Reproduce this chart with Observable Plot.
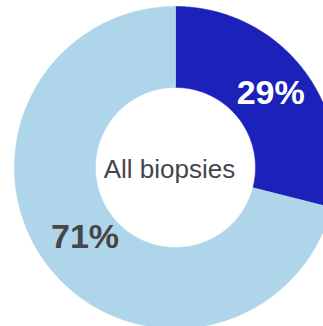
<!DOCTYPE html>
<html>
<head>
<meta charset="utf-8">
<script src="https://cdn.jsdelivr.net/npm/d3@7"></script>
<script src="https://cdn.jsdelivr.net/npm/@observablehq/plot@0.6"></script>
<style>
  html, body { margin: 0; padding: 0; background: #fff; overflow: hidden; }
  #chart svg { display: block; overflow: hidden; }
</style>
</head>
<body>
<div id="chart"></div>
<script>
// Share of biopsies per outcome (percent), drawn clockwise from 12 o'clock
const outcomes = ["Positive", "Negative"];
const shares = [29, 71];
const sliceColors = ["#1c22b9", "#afd5eb"];
const labelColors = ["#ffffff", "#45454a"];
const centerLabel = "All biopsies";

// Layout
const W = 323, H = 326;
const cx = 175, cy = 167;      // ring centre in pixels
const R = 161;                 // outer radius in pixels (= 1 unit)
const inner = 0.497;           // inner radius, in units of the outer radius

const pie = d3.pie().sort(null).value(d => d.share);
const arcs = pie(outcomes.map((o, i) => ({outcome: o, share: shares[i], color: sliceColors[i], label: labelColors[i]})));

// Outline of each ring segment: outer arc forward, inner arc back
const outline = [];
for (const a of arcs) {
  const n = Math.max(2, Math.ceil((a.endAngle - a.startAngle) / (Math.PI / 360)));
  for (let k = 0; k <= n; k++) {
    const t = a.startAngle + (a.endAngle - a.startAngle) * k / n;
    outline.push({outcome: a.data.outcome, color: a.data.color, x: Math.sin(t), y: Math.cos(t)});
  }
  for (let k = n; k >= 0; k--) {
    const t = a.startAngle + (a.endAngle - a.startAngle) * k / n;
    outline.push({outcome: a.data.outcome, color: a.data.color, x: inner * Math.sin(t), y: inner * Math.cos(t)});
  }
}

// Percentage labels near each segment's centroid
const rMid = (1 + inner) / 2;
const labels = arcs.map(a => {
  const t = (a.startAngle + a.endAngle) / 2;
  const r = a.index === 0 ? rMid : rMid * 0.95;
  return {text: `${a.data.share}%`, color: a.data.label, x: r * Math.sin(t), y: r * Math.cos(t)};
});

const chart = Plot.plot({
  width: W,
  height: H,
  margin: 0,
  style: {fontFamily: "'Liberation Sans', Arial, sans-serif", background: "#fff", overflow: "hidden"},
  x: {domain: [-cx / R, (W - cx) / R], axis: null},
  y: {domain: [-(H - cy) / R, cy / R], axis: null},
  color: {type: "identity"},
  marks: [
    Plot.line(outline, {x: "x", y: "y", z: "outcome", fill: "color", stroke: "color", strokeWidth: 0.6, curve: "linear"}),
    Plot.text(labels, {x: "x", y: "y", text: "text", fill: "color", fontSize: 34, fontWeight: "bold", dy: -1}),
    Plot.text([centerLabel], {x: () => 0, y: () => 0, text: d => d, fill: "#45454a", fontSize: 26, dx: -6, dy: 2})
  ]
});

document.getElementById("chart").appendChild(chart);
</script>
</body>
</html>
